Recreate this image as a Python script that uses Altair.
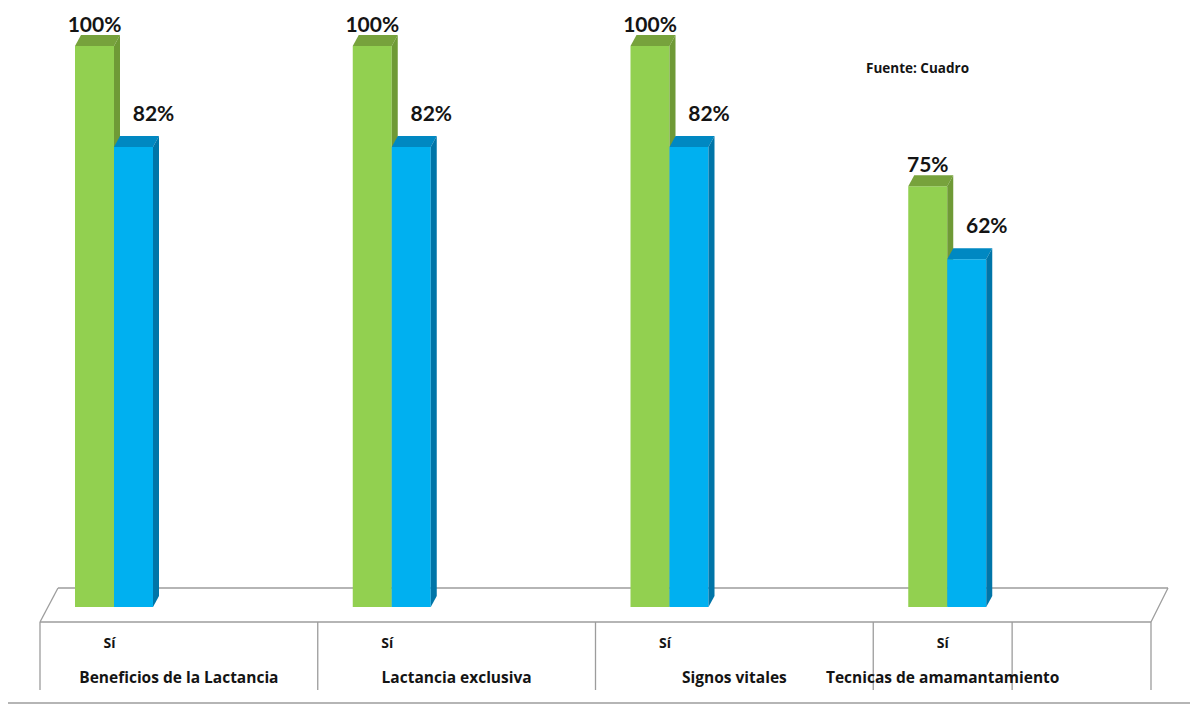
import altair as alt
import pandas as pd

# ---------------- data ----------------
categories = ["Beneficios de la Lactancia", "Lactancia exclusiva", "Signos vitales", "Tecnicas de amamantamiento"]
green_values = [100, 100, 100, 75]
blue_values = [82, 82, 82, 62]
answer_labels = ["Sí", "Sí", "Sí", "Sí"]
source_note = "Fuente:  Cuadro"

# ---------------- geometry (data units) ----------------
PX_X = (1151 - 40) / 4.0      # pixels per category unit
PX_Y = (607 - 46) / 100.0     # pixels per percent
BAR_LEFT = 35 / PX_X
BAR_W = 39 / PX_X
DX = 6 / PX_X
DY = 11 / PX_Y

xs = alt.Scale(domain=[0, 4], range=[40, 1151], nice=False, zero=False)
ys = alt.Scale(domain=[0, 100], range=[607, 46], nice=False, zero=False)

GREEN = {"front": "#92D050", "top": "#77A23C", "side": "#6F9A36"}
BLUE = {"front": "#00B0F0", "top": "#0088C2", "side": "#0075A8"}


def build(values, slot):
    front, top, side = [], [], []
    for i, v in enumerate(values):
        x0 = i + BAR_LEFT + slot * BAR_W
        front.append({"x": x0, "x2": x0 + BAR_W, "y": 0, "y2": v})
        bid = f"{slot}-{i}"
        top += [
            {"id": bid, "x": x0, "lo": v, "hi": v},
            {"id": bid, "x": x0 + DX, "lo": v, "hi": v + DY},
            {"id": bid, "x": x0 + BAR_W, "lo": v, "hi": v + DY},
            {"id": bid, "x": x0 + BAR_W + DX, "lo": v + DY, "hi": v + DY},
        ]
        side += [
            {"id": bid, "x": x0 + BAR_W, "lo": 0, "hi": v},
            {"id": bid, "x": x0 + BAR_W + DX, "lo": DY, "hi": v + DY},
        ]
    return pd.DataFrame(front), pd.DataFrame(top), pd.DataFrame(side)


def bar_layers(values, slot, colors):
    f, t, s = build(values, slot)
    lf = alt.Chart(f).mark_rect(color=colors["front"]).encode(
        x=alt.X("x:Q", scale=xs, axis=None), x2="x2:Q",
        y=alt.Y("y:Q", scale=ys, axis=None), y2="y2:Q")
    lt = alt.Chart(t).mark_area(color=colors["top"]).encode(
        x=alt.X("x:Q", scale=xs, axis=None),
        y=alt.Y("lo:Q", scale=ys, axis=None), y2="hi:Q", detail="id:N")
    ls = alt.Chart(s).mark_area(color=colors["side"]).encode(
        x=alt.X("x:Q", scale=xs, axis=None),
        y=alt.Y("lo:Q", scale=ys, axis=None), y2="hi:Q", detail="id:N")
    return [lf, lt, ls]


# ---------------- floor & table lines ----------------
FRONT_Y = -(622 - 607) / PX_Y
BACK_Y = (607 - 588) / PX_Y
BACK_L = (58 - 40) / PX_X
BACK_R = (1168 - 40) / PX_X
TABLE_BOTTOM = -(690 - 607) / PX_Y
BASE_Y = -(703 - 607) / PX_Y

segments = [
    {"x": BACK_L, "y": BACK_Y, "x2": BACK_R, "y2": BACK_Y},
    {"x": 0, "y": FRONT_Y, "x2": BACK_L, "y2": BACK_Y},
    {"x": 4, "y": FRONT_Y, "x2": BACK_R, "y2": BACK_Y},
    {"x": 0, "y": FRONT_Y, "x2": 4, "y2": FRONT_Y},
    {"x": -(32 / PX_X), "y": BASE_Y, "x2": (1190 - 40) / PX_X, "y2": BASE_Y},
]
for xv in [0, 1, 2, 3, 3.5, 4]:
    segments.append({"x": xv, "y": FRONT_Y, "x2": xv, "y2": TABLE_BOTTOM})

lines = alt.Chart(pd.DataFrame(segments)).mark_rule(color="#9C9C9C", strokeWidth=1.3).encode(
    x=alt.X("x:Q", scale=xs, axis=None), x2="x2:Q",
    y=alt.Y("y:Q", scale=ys, axis=None), y2="y2:Q")

# ---------------- text ----------------
FONT = "Lato"
TFONT = "Open Sans"
TXT = "#141414"

green_lab = pd.DataFrame({
    "x": [i + BAR_LEFT + BAR_W / 2 for i in range(4)],
    "y": [v + DY for v in green_values],
    "t": [f"{v}%" for v in green_values]})
blue_lab = pd.DataFrame({
    "x": [i + BAR_LEFT + 1.5 * BAR_W for i in range(4)],
    "y": [v + DY for v in blue_values],
    "t": [f"{v}%" for v in blue_values]})

gtxt = alt.Chart(green_lab).mark_text(font=FONT, fontWeight="bold", fontSize=21, color=TXT,
                                      baseline="alphabetic", dy=-3, dx=0).encode(
    x=alt.X("x:Q", scale=xs, axis=None), y=alt.Y("y:Q", scale=ys, axis=None), text="t:N")
btxt = alt.Chart(blue_lab).mark_text(font=FONT, fontWeight="bold", fontSize=21, color=TXT,
                                     baseline="alphabetic", dy=-15, dx=20).encode(
    x=alt.X("x:Q", scale=xs, axis=None), y=alt.Y("y:Q", scale=ys, axis=None), text="t:N")

ans = pd.DataFrame({"x": [i + 0.25 for i in range(4)], "y": [-(644 - 607) / PX_Y] * 4, "t": answer_labels})
atxt = alt.Chart(ans).mark_text(font=TFONT, fontWeight="bold", fontSize=14, color=TXT, baseline="middle").encode(
    x=alt.X("x:Q", scale=xs, axis=None), y=alt.Y("y:Q", scale=ys, axis=None), text="t:N")

cat_x = [0.5, 1.5, 2.5, 3.25]
cats = pd.DataFrame({"x": cat_x, "y": [-(678 - 607) / PX_Y] * 4, "t": categories})
ctxt = alt.Chart(cats).mark_text(font=TFONT, fontWeight="bold", fontSize=15.5, color=TXT, baseline="middle").encode(
    x=alt.X("x:Q", scale=xs, axis=None), y=alt.Y("y:Q", scale=ys, axis=None), text="t:N")

note = pd.DataFrame({"x": [(866 - 40) / PX_X], "y": [(607 - 69) / PX_Y], "t": [source_note]})
ntxt = alt.Chart(note).mark_text(font=TFONT, fontWeight="bold", fontSize=13.5, color=TXT,
                                 baseline="middle", align="left").encode(
    x=alt.X("x:Q", scale=xs, axis=None), y=alt.Y("y:Q", scale=ys, axis=None), text="t:N")

layers = [lines] + bar_layers(green_values, 0, GREEN) + bar_layers(blue_values, 1, BLUE) + [gtxt, btxt, atxt, ctxt, ntxt]

chart = alt.layer(*layers).properties(
    width=1200, height=708, padding=0, autosize="none", background="white"
).configure_view(stroke=None)

chart.save("out.html", embed_options={"renderer": "svg", "actions": False})
